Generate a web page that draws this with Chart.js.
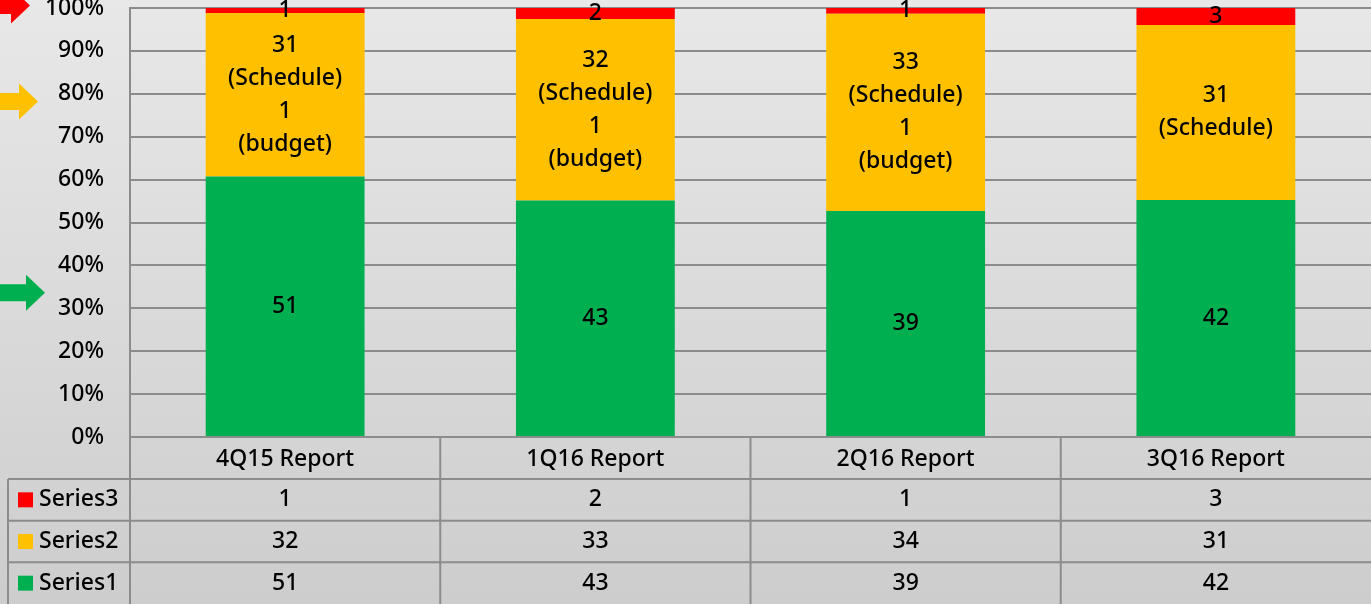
<!DOCTYPE html>
<html>
<head>
<meta charset="utf-8">
<script src="https://cdn.jsdelivr.net/npm/chart.js@4"></script>
<style>
  body { margin: 0; background: #dcdcdc; }
  #wrap { width: 1371px; height: 604px; position: relative; }
</style>
</head>
<body>
<div id="wrap"><canvas id="reportChart"></canvas></div>
<script>
var categories = ['4Q15 Report', '1Q16 Report', '2Q16 Report', '3Q16 Report'];
var series1 = [51, 43, 39, 42];
var series2 = [32, 33, 34, 31];
var series3 = [1, 2, 1, 3];
var series1Labels = ['51', '43', '39', '42'];
var series2Labels = ['31\n(Schedule)\n1\n(budget)', '32\n(Schedule)\n1\n(budget)', '33\n(Schedule)\n1\n(budget)', '31\n(Schedule)'];
var series3Labels = ['1', '2', '1', '3'];
var yTicks = [0, 10, 20, 30, 40, 50, 60, 70, 80, 90, 100];

var FONT = '"Noto Sans", "DejaVu Sans", sans-serif';
var FSIZE = 23;
var GRID = '#8c8c8c';

// totals for 100% stacking
var totals = series1.map(function (v, i) { return v + series2[i] + series3[i]; });
function pct(arr) { return arr.map(function (v, i) { return v / totals[i] * 100; }); }

var bgPlugin = {
    id: 'bg',
    beforeDraw: function (chart) {
        var ctx = chart.ctx;
        var g = ctx.createLinearGradient(0, 0, 0, chart.height);
        g.addColorStop(0, '#e8e8e8');
        g.addColorStop(1, '#cdcdcd');
        ctx.save();
        ctx.fillStyle = g;
        ctx.fillRect(0, 0, chart.width, chart.height);
        ctx.restore();
    }
};

var labelPlugin = {
    id: 'segLabels',
    afterDatasetsDraw: function (chart) {
        var ctx = chart.ctx;
        ctx.save();
        ctx.fillStyle = '#000';
        ctx.font = '500 ' + FSIZE + 'px ' + FONT;
        ctx.textAlign = 'center';
        ctx.textBaseline = 'middle';
        chart.data.datasets.forEach(function (ds, di) {
            chart.getDatasetMeta(di).data.forEach(function (bar, i) {
                var lines = ds.labelText[i].split('\n');
                var cy = (bar.y + bar.base) / 2;
                var lh = 33;
                var y0 = cy - (lines.length - 1) * lh / 2;
                lines.forEach(function (t, k) { ctx.fillText(t, bar.x, y0 + k * lh); });
            });
        });
        ctx.restore();
    }
};

var arrowPlugin = {
    id: 'arrows',
    afterDraw: function (chart) {
        var ctx = chart.ctx, y = chart.scales.y;
        var marks = [
            { v: 100.6, tip: 30, color: '#ff0000' },
            { v: 78.2, tip: 38, color: '#ffc000' },
            { v: 33.6, tip: 45, color: '#00b050' }
        ];
        ctx.save();
        marks.forEach(function (m) {
            var cy = y.getPixelForValue(m.v);
            var back = m.tip - 19;
            ctx.fillStyle = m.color;
            ctx.beginPath();
            ctx.moveTo(0, cy - 8.5);
            ctx.lineTo(back, cy - 8.5);
            ctx.lineTo(back, cy - 18);
            ctx.lineTo(m.tip, cy);
            ctx.lineTo(back, cy + 18);
            ctx.lineTo(back, cy + 8.5);
            ctx.lineTo(0, cy + 8.5);
            ctx.closePath();
            ctx.fill();
        });
        ctx.restore();
    }
};

var tablePlugin = {
    id: 'dataTable',
    afterDraw: function (chart) {
        var ctx = chart.ctx, area = chart.chartArea, x = chart.scales.x;
        var top = area.bottom, bottom = chart.height, right = chart.width;
        var headH = 42;
        var rowH = (bottom - top - headH) / 3;
        var rows = [
            { name: 'Series3', color: '#ff0000', vals: series3 },
            { name: 'Series2', color: '#ffc000', vals: series2 },
            { name: 'Series1', color: '#00b050', vals: series1 }
        ];
        var bounds = [area.left];
        for (var i = 0; i < categories.length - 1; i++) {
            bounds.push((x.getPixelForValue(i) + x.getPixelForValue(i + 1)) / 2);
        }
        ctx.save();
        ctx.strokeStyle = GRID;
        ctx.lineWidth = 2;
        ctx.beginPath();
        bounds.forEach(function (bx) { ctx.moveTo(bx, top); ctx.lineTo(bx, bottom); });
        ctx.moveTo(8, top + headH); ctx.lineTo(8, bottom);
        for (var r = 0; r < 3; r++) {
            var ly = top + headH + r * rowH;
            ctx.moveTo(8, ly); ctx.lineTo(right, ly);
        }
        ctx.stroke();

        ctx.fillStyle = '#000';
        ctx.font = '500 ' + FSIZE + 'px ' + FONT;
        ctx.textAlign = 'center';
        ctx.textBaseline = 'middle';
        categories.forEach(function (c, i) {
            ctx.fillText(c, x.getPixelForValue(i), top + headH / 2 + 1);
        });
        rows.forEach(function (row, r) {
            var cy = top + headH + r * rowH + rowH / 2;
            row.vals.forEach(function (v, i) {
                ctx.fillStyle = '#000';
                ctx.textAlign = 'center';
                ctx.fillText(String(v), x.getPixelForValue(i), cy);
            });
            ctx.fillStyle = row.color;
            ctx.fillRect(18, cy - 7.5, 15, 15);
            ctx.fillStyle = '#000';
            ctx.textAlign = 'left';
            ctx.fillText(row.name, 39, cy);
        });
        ctx.restore();
    }
};

var ctx = document.getElementById('reportChart');
var reportChart = new Chart(ctx, {
    type: 'bar',
    data: {
        labels: categories,
        datasets: [{
            label: 'Series1',
            data: pct(series1),
            labelText: series1Labels,
            backgroundColor: '#00b050'
        }, {
            label: 'Series2',
            data: pct(series2),
            labelText: series2Labels,
            backgroundColor: '#ffc000'
        }, {
            label: 'Series3',
            data: pct(series3),
            labelText: series3Labels,
            backgroundColor: '#ff0000'
        }]
    },
    options: {
        responsive: true,
        maintainAspectRatio: false,
        animation: false,
        datasets: {
            bar: { categoryPercentage: 1, barPercentage: 0.512 }
        },
        layout: { padding: { top: 8, bottom: 167, left: 0, right: 0 } },
        plugins: {
            legend: { display: false },
            tooltip: { enabled: false }
        },
        scales: {
            x: {
                stacked: true,
                display: false
            },
            y: {
                stacked: true,
                min: 0,
                max: 100,
                afterBuildTicks: function (scale) {
                    scale.ticks = yTicks.map(function (v) { return { value: v }; });
                },
                afterFit: function (scale) {
                    scale.width = 130;
                    scale.paddingTop = 0;
                    scale.paddingBottom = 0;
                },
                ticks: {
                    padding: 26,
                    color: '#000',
                    font: { size: FSIZE, family: FONT, weight: 500 },
                    callback: function (v) { return v + '%'; }
                },
                grid: { color: GRID, lineWidth: 2, drawTicks: false },
                border: { color: GRID, width: 2 }
            }
        }
    },
    plugins: [bgPlugin, labelPlugin, arrowPlugin, tablePlugin]
});
</script>
</body>
</html>
